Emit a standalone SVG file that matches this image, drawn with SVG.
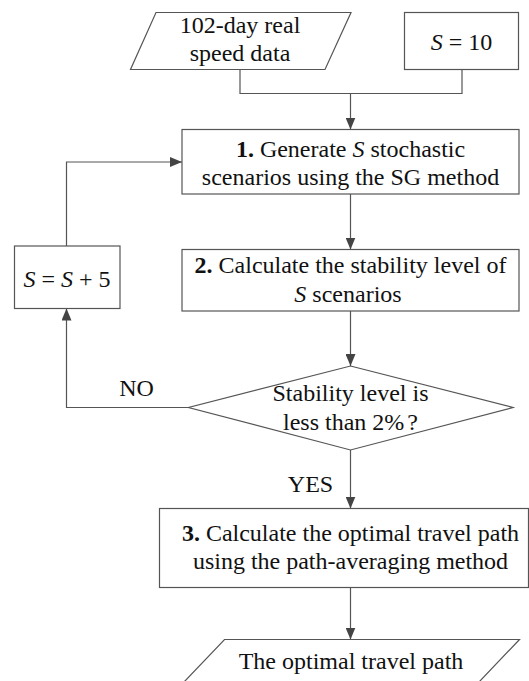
<svg xmlns="http://www.w3.org/2000/svg" width="529" height="681" viewBox="0 0 529 681" font-family="'Liberation Serif', 'DejaVu Serif', serif">
<style>
  .shape { fill: #ffffff; stroke: #555555; stroke-width: 1.2; }
  .conn { fill: none; stroke: #555555; stroke-width: 1.2; }
  text { font-family: 'Liberation Serif', 'DejaVu Serif', serif; font-size: 24px; fill: #111111; text-anchor: middle; }
  .b { font-weight: bold; }
  .i { font-style: italic; }
</style>
<defs>
  <marker id="arrow" viewBox="0 0 12 10" refX="12" refY="5" markerWidth="12" markerHeight="10" markerUnits="userSpaceOnUse" orient="auto">
    <path d="M0,0 L12,5 L0,10 Z" fill="#444444"/>
  </marker>
</defs>
<rect width="529" height="681" fill="#ffffff"/>

<g id="connectors">
  <polyline class="conn" points="240,69.5 240,93.5 462,93.5 462,69.5"/>
  <line class="conn" x1="350.5" y1="93.5" x2="350.5" y2="129.5" marker-end="url(#arrow)"/>
  <line class="conn" x1="350.5" y1="194" x2="350.5" y2="249.5" marker-end="url(#arrow)"/>
  <line class="conn" x1="350.5" y1="311" x2="350.5" y2="366" marker-end="url(#arrow)"/>
  <polyline class="conn" points="188.5,407.5 66.5,407.5 66.5,308.5" marker-end="url(#arrow)"/>
  <polyline class="conn" points="66.5,246 66.5,162 182,162" marker-end="url(#arrow)"/>
  <line class="conn" x1="350.5" y1="450" x2="350.5" y2="508.5" marker-end="url(#arrow)"/>
  <line class="conn" x1="350.5" y1="587.5" x2="350.5" y2="639.5" marker-end="url(#arrow)"/>
  <text x="136.5" y="395.5">NO</text>
  <text x="310.5" y="491.5">YES</text>
</g>

<g id="input-data">
  <polygon class="shape" points="156,12.5 351,12.5 325,69.5 130.5,69.5"/>
  <text x="240" y="33">102-day real</text>
  <text x="240" y="61">speed data</text>
</g>

<g id="init-s">
  <rect class="shape" x="404.5" y="12.5" width="114" height="57"/>
  <text x="461.5" y="49.5"><tspan class="i">S</tspan> = 10</text>
</g>

<g id="step1">
  <rect class="shape" x="182" y="129.5" width="337" height="64.5"/>
  <text x="350.5" y="157"><tspan class="b">1.</tspan> Generate <tspan class="i">S</tspan> stochastic</text>
  <text x="350.5" y="185">scenarios using the SG method</text>
</g>

<g id="step2">
  <rect class="shape" x="182" y="249.5" width="337" height="61.5"/>
  <text x="350.5" y="273"><tspan class="b">2.</tspan> Calculate the stability level of</text>
  <text x="348" y="301.5"><tspan class="i">S</tspan> scenarios</text>
</g>

<g id="increment-s">
  <rect class="shape" x="14.5" y="246" width="105.5" height="62.5"/>
  <text x="67" y="287"><tspan class="i">S</tspan> = <tspan class="i">S</tspan> + 5</text>
</g>

<g id="decision">
  <polygon class="shape" points="350.5,366 513,407.5 350.5,450 188.5,407.5"/>
  <text x="350.5" y="401">Stability level is</text>
  <text x="350.5" y="430">less than 2%<tspan dx="3">?</tspan></text>
</g>

<g id="step3">
  <rect class="shape" x="159.5" y="508.5" width="369" height="79"/>
  <text x="350.5" y="540.5"><tspan class="b">3.</tspan> Calculate the optimal travel path</text>
  <text x="350.5" y="569">using the path-averaging method</text>
</g>

<g id="output">
  <polygon class="shape" points="224.5,639.5 519.5,639.5 459,703 164,703"/>
  <text x="351" y="669">The optimal travel path</text>
</g>
</svg>
